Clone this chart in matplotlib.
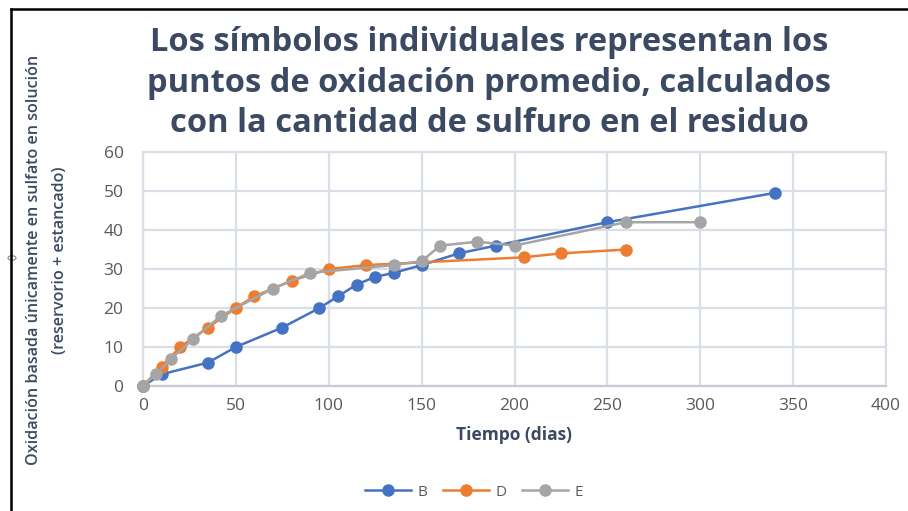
import matplotlib
matplotlib.use("Agg")
import matplotlib.pyplot as plt
from matplotlib.lines import Line2D
from matplotlib.patches import Circle

# Series data (days, oxidation %)
b_days = [0, 10, 35, 50, 75, 95, 105, 115, 125, 135, 150, 170, 190, 250, 340]
b_vals = [0, 3, 6, 10, 15, 20, 23, 26, 28, 29, 31, 34, 36, 42, 49.5]

d_days = [0, 10, 20, 35, 50, 60, 80, 100, 120, 205, 225, 260]
d_vals = [0, 5, 10, 15, 20, 23, 27, 30, 31, 33, 34, 35]

e_days = [0, 7, 15, 27, 42, 70, 90, 135, 150, 160, 180, 200, 260, 300]
e_vals = [0, 3, 7, 12, 18, 25, 29, 31, 32, 36, 37, 36, 42, 42]

x_ticks = [0, 50, 100, 150, 200, 250, 300, 350, 400]
y_ticks = [0, 10, 20, 30, 40, 50, 60]

title = ("Los símbolos individuales representan los\n"
         "puntos de oxidación promedio, calculados\n"
         "con la cantidad de sulfuro en el residuo")
ylabel = ("Oxidación basada únicamente en sulfato en solución\n"
          "(reservorio + estancado)")
xlabel = "Tiempo (dias)"

BLUE = "#4472C4"
ORANGE = "#ED7D31"
GRAY = "#A5A5A5"
TITLE_C = "#3B4A62"
TICK_C = "#595959"
GRID_C = "#D9DEE7"

fig = plt.figure(figsize=(9.08, 5.11), dpi=100)
ax = fig.add_axes([143 / 908, 1 - 386 / 511, (886 - 143) / 908, (386 - 152) / 511])

for xs, ys, c, name in [(b_days, b_vals, BLUE, "B"),
                        (d_days, d_vals, ORANGE, "D"),
                        (e_days, e_vals, GRAY, "E")]:
    ax.plot(xs, ys, color=c, lw=1.8, marker="o", ms=8, mec=c, mfc=c,
            label=name, zorder=3, clip_on=False)

ax.set_xlim(0, 400)
ax.set_ylim(0, 60)
ax.set_xticks(x_ticks)
ax.set_yticks(y_ticks)
ax.grid(True, color=GRID_C, lw=1.6)
ax.set_axisbelow(True)
for s in ["top", "right", "left"]:
    ax.spines[s].set_color(GRID_C)
    ax.spines[s].set_linewidth(1.6)
ax.spines["bottom"].set_color("#C5CBD5")
ax.spines["bottom"].set_linewidth(1.6)
ax.tick_params(length=0, labelsize=12.5, labelcolor=TICK_C)
ax.tick_params(axis="y", pad=14)
ax.tick_params(axis="x", pad=9)
for lab in ax.get_xticklabels() + ax.get_yticklabels():
    lab.set_family("Open Sans")

ax.set_xlabel(xlabel, fontsize=12.5, fontweight="bold", color=TITLE_C,
              family="Open Sans", labelpad=8)
fig.text(47 / 908, 1 - 260 / 511, ylabel, rotation=90, ha="center", va="center",
         fontsize=11.6, fontweight="semibold", color=TITLE_C, family="Open Sans",
         linespacing=1.75, multialignment="center")

fig.text(489 / 908, 1 - 83 / 511, title, ha="center", va="center",
         fontsize=23.5, fontweight="bold", color=TITLE_C, family="Open Sans",
         linespacing=1.3)

handles = [Line2D([], [], color=c, lw=1.8, marker="o", ms=8, mec=c, mfc=c)
           for c in (BLUE, ORANGE, GRAY)]
leg = fig.legend(handles, ["B", "D", "E"], loc="center", ncol=3,
                 bbox_to_anchor=(474 / 908, 1 - 492 / 511), frameon=False,
                 handlelength=3.0, columnspacing=1.0, handletextpad=0.45,
                 prop={"family": "Open Sans", "size": 11})
for t in leg.get_texts():
    t.set_color(TICK_C)

# Frame edges along the top and left
fig.add_artist(Line2D([11 / 908, 1], [1 - 9 / 511, 1 - 9 / 511], color="black", lw=1.8))
fig.add_artist(Line2D([11 / 908, 11 / 908], [0, 1 - 9 / 511], color="black", lw=1.8))
fig.add_artist(Circle((12 / 908, 1 - 258 / 511), 4 / 908, transform=fig.transFigure,
                      fill=True, fc="white", ec="#888888", lw=0.8))

fig.savefig("out.png", dpi=100)
